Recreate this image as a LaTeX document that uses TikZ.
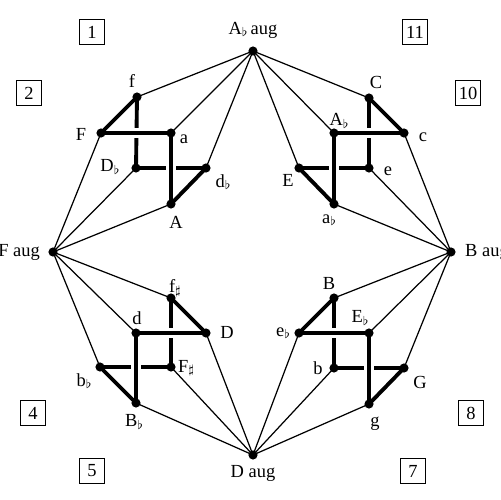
\documentclass[tikz,border=0pt]{standalone}
\usepackage{amsmath}
\usepackage{amssymb}
\usepackage{fontspec}
\setmainfont{Liberation Serif}
\usepackage{tikz}

\newcommand{\flt}{\raisebox{-0.3ex}{\scriptsize$\flat$}}
\newcommand{\shp}{\raisebox{-0.2ex}{\scriptsize$\sharp$}}

\begin{document}
\begin{tikzpicture}[x=0.02cm,y=-0.02cm,
    font=\fontsize{10.5pt}{12pt}\selectfont,
    link/.style={line width=0.7pt},
    edge/.style={line width=2.2pt},
    over/.style={preaction={draw=white,line width=6pt,shorten <=8pt,shorten >=8pt}},
    num/.style={draw,line width=0.6pt,minimum size=0.5cm,inner sep=1.5pt}]
            \useasboundingbox (0,0) rectangle (500,500);

            % the four augmented chords
            \coordinate (Abaug) at (253,51);
            \coordinate (Faug) at (53,252);
            \coordinate (Baug) at (451,252);
            \coordinate (Daug) at (253,455);

            % upper left
            \coordinate (f) at (137,97);
            \coordinate (F) at (101,133);
            \coordinate (a) at (171,133);
            \coordinate (Db) at (136,168);
            \coordinate (db) at (206,168);
            \coordinate (A) at (171,204);

            % upper right
            \coordinate (C) at (369,98);
            \coordinate (Ab) at (334,133);
            \coordinate (c) at (404,133);
            \coordinate (E) at (299,168);
            \coordinate (e) at (369,168);
            \coordinate (ab) at (334,204);

            % lower left
            \coordinate (fs) at (171,298);
            \coordinate (d) at (136,333);
            \coordinate (D) at (206,333);
            \coordinate (bb) at (100,367);
            \coordinate (Fs) at (171,367);
            \coordinate (Bb) at (136,403);

            % lower right
            \coordinate (B) at (334,298);
            \coordinate (eb) at (299,333);
            \coordinate (Eb) at (369,333);
            \coordinate (b) at (334,368);
            \coordinate (G) at (404,368);
            \coordinate (g) at (369,404);

            % edges behind
            \draw[edge] (f) -- (Db) -- (db);
            \draw[edge] (C) -- (e) -- (E);
            \draw[edge] (fs) -- (Fs) -- (bb);
            \draw[edge] (B) -- (b) -- (G);

            % edges in front
            \draw[edge,over] (F) -- (a);
            \draw[edge,over] (a) -- (A);
            \draw[edge,over] (Ab) -- (c);
            \draw[edge,over] (Ab) -- (ab);
            \draw[edge,over] (d) -- (D);
            \draw[edge,over] (d) -- (Bb);
            \draw[edge,over] (eb) -- (Eb);
            \draw[edge,over] (Eb) -- (g);

            \draw[edge] (f) -- (F);
            \draw[edge] (A) -- (db);
            \draw[edge] (C) -- (c);
            \draw[edge] (ab) -- (E);
            \draw[edge] (fs) -- (D);
            \draw[edge] (Bb) -- (bb);
            \draw[edge] (B) -- (eb);
            \draw[edge] (g) -- (G);

            % links to the augmented chords
            \foreach \p in {f,a,db,C,Ab,E} \draw[link] (Abaug) -- (\p);
            \foreach \p in {F,Db,A,fs,d,bb} \draw[link] (Faug) -- (\p);
            \foreach \p in {c,e,ab,B,Eb,G} \draw[link] (Baug) -- (\p);
            \foreach \p in {D,Fs,Bb,eb,b,g} \draw[link] (Daug) -- (\p);

            \foreach \p in {Abaug,Faug,Baug,Daug,f,F,a,Db,db,A,C,Ab,c,E,e,ab,fs,d,D,bb,Fs,Bb,B,eb,Eb,b,G,g}
                \fill (\p) circle (2.6pt);

            \node (l-Abaug) at (253,30) {A\flt\,aug};
            \node[anchor=east] (l-Faug) at (46,252) {F aug};
            \node[anchor=west] (l-Baug) at (459,252) {B aug};
            \node (l-Daug) at (253,473) {D aug};

            \node (l-f) at (132,81) {f};
            \node (l-F) at (81,134) {F};
            \node (l-a) at (184,139) {a};
            \node (l-Db) at (110,167) {D\flt};
            \node (l-db) at (223,182) {d\flt};
            \node (l-A) at (176,222) {A};

            \node (l-C) at (376,82) {C};
            \node (l-Ab) at (339,121) {A\flt};
            \node (l-c) at (423,137) {c};
            \node (l-E) at (288,180) {E};
            \node (l-e) at (388,171) {e};
            \node (l-ab) at (329,220) {a\flt};

            \node (l-fs) at (175,288) {f\shp};
            \node (l-d) at (137,318) {d};
            \node (l-D) at (227,332) {D};
            \node (l-bb) at (84,381) {b\flt};
            \node (l-Fs) at (186,368) {F\shp};
            \node (l-Bb) at (134,422) {B\flt};

            \node (l-B) at (329,283) {B};
            \node (l-Eb) at (360,318) {E\flt};
            \node (l-eb) at (283,333) {e\flt};
            \node (l-b) at (318,368) {b};
            \node (l-G) at (420,382) {G};
            \node (l-g) at (375,424) {g};

            \node[num] (n1) at (92,32) {1};
            \node[num] (n11) at (415,32) {11};
            \node[num] (n2) at (29,93) {2};
            \node[num] (n10) at (468,93) {10};
            \node[num] (n4) at (33,413) {4};
            \node[num] (n8) at (471,413) {8};
            \node[num] (n5) at (92,471) {5};
            \node[num] (n7) at (413,471) {7};
        \end{tikzpicture}
\end{document}
